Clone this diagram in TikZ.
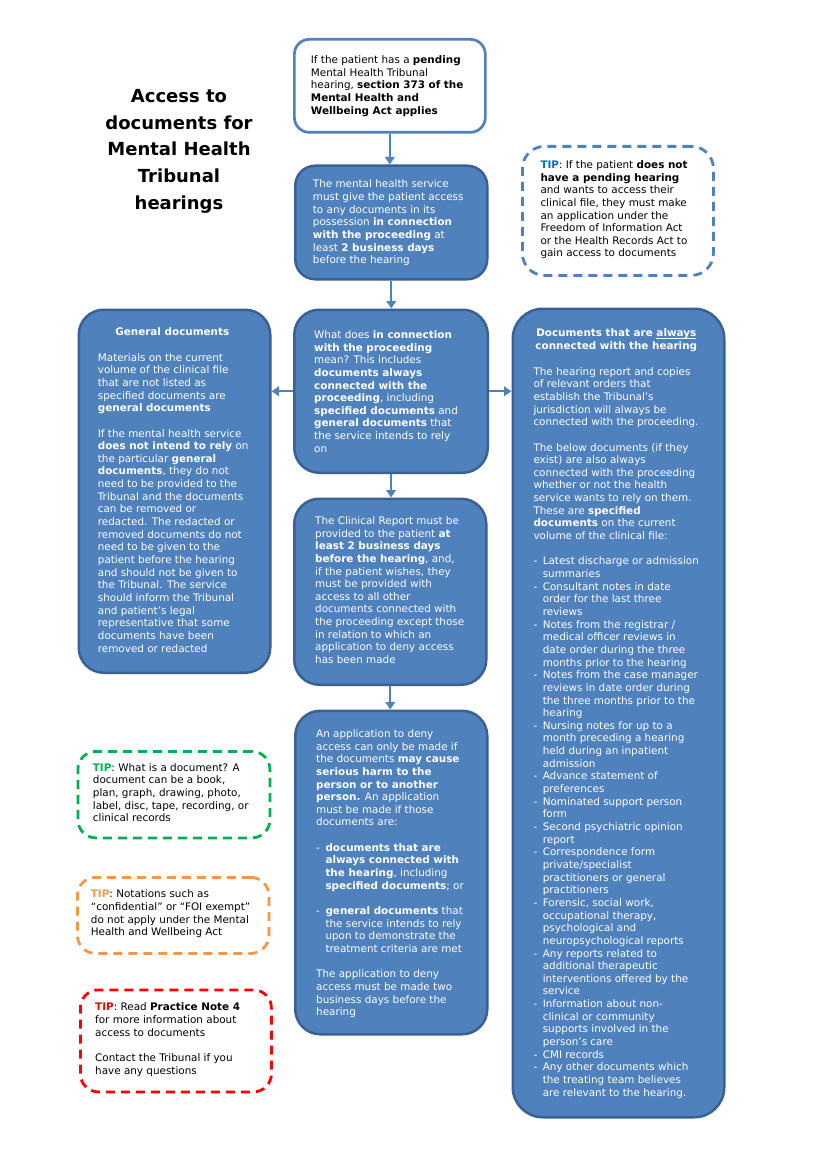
\documentclass[tikz,border=0pt]{standalone}
\usepackage{fontspec}
\setmainfont{DejaVu Sans}
\usetikzlibrary{arrows.meta}
\definecolor{boxblue}{HTML}{4F81BD}
\definecolor{edgeblue}{HTML}{3A6094}
\definecolor{tipblue}{HTML}{0070C0}
\definecolor{tipgreen}{HTML}{00B050}
\definecolor{tiporange}{HTML}{F79646}
\definecolor{tipred}{HTML}{FF0000}
\newcommand{\gap}{\\[12.65pt]}
\newcommand{\li}{\makebox[9.3pt][l]{-}}
\newcommand{\ci}{\hspace*{9.3pt}}
\newcommand{\myul}[1]{\setbox0\hbox{#1}\rlap{\rule[-1.6pt]{\wd0}{0.7pt}}#1}
\begin{document}
\begin{tikzpicture}[x=1pt,y=-1pt,
  flowbox/.style={draw=edgeblue, fill=boxblue, line width=2.5pt, inner sep=0pt, anchor=north west},
  whitebox/.style={draw=boxblue, fill=white, line width=2.7pt, inner sep=0pt, anchor=north west, rounded corners=15pt},
  tipbox/.style={draw=#1, dash pattern=on 9pt off 6pt, line width=2.8pt, inner sep=0pt, anchor=north west, rounded corners=18pt},
  txt/.style={align=left, inner sep=0pt, anchor=north west, font=\fontsize{10.4}{12.65}\selectfont, execute at begin node={\rule{0pt}{8pt}}},
  wtxt/.style={txt, text=white},
  arr/.style={draw=boxblue, line width=2.2pt, -{Triangle[length=7.5pt,width=9.5pt]}}
]
\fill[white] (0,0) rectangle (826,1169);
\useasboundingbox (0,0) rectangle (826,1169);

% title
\node[align=center, inner sep=0pt, anchor=north, font=\fontsize{18}{26.8}\selectfont\bfseries, execute at begin node={\rule{0pt}{14pt}}] (title) at (179,89)
{Access to\\documents for\\Mental Health\\Tribunal\\hearings};

% boxes
\node[whitebox, minimum width=191pt, minimum height=93pt] (b1) at (293,38) {};
\node[flowbox, rounded corners=20pt, minimum width=192pt, minimum height=113.5pt] (b2) at (294,164.5) {};
\node[tipbox=boxblue, rounded corners=22pt, minimum width=191pt, minimum height=129pt] (tipb) at (521,145) {};
\node[flowbox, rounded corners=25pt, minimum width=191.5pt, minimum height=363pt] (gen) at (77.5,308.5) {};
\node[flowbox, rounded corners=25pt, minimum width=193.5pt, minimum height=163pt] (b3) at (293,308.5) {};
\node[flowbox, rounded corners=25pt, minimum width=192pt, minimum height=186pt] (b4) at (293,497.5) {};
\node[flowbox, rounded corners=25pt, minimum width=192pt, minimum height=323.5pt] (b5) at (294,709.5) {};
\node[flowbox, rounded corners=30pt, minimum width=211.5pt, minimum height=808.5pt] (right) at (511.5,307.5) {};
\node[tipbox=tipgreen, minimum width=192pt, minimum height=86.5pt] (tipg) at (76.5,750) {};
\node[tipbox=tiporange, minimum width=191.5pt, minimum height=76pt] (tipo) at (76,876) {};
\node[tipbox=tipred, minimum width=191pt, minimum height=102pt] (tipr) at (79,988.5) {};

% arrows
\draw[arr] (b1.south) -- (b1.south |- b2.north);
\draw[arr] (b2.south) -- (b2.south |- b3.north);
\draw[arr] (b3.south) -- (b3.south |- b4.north);
\draw[arr] (b4.south) -- (b4.south |- b5.north);
\draw[arr] (b3.west) -- (b3.west -| gen.east);
\draw[arr] (b3.east) -- (b3.east -| right.west);

% texts
\node[txt] (t1) at (310.7,55.3) {If the patient has a \textbf{pending}\\
Mental Health Tribunal\\
hearing, \textbf{section 373 of the}\\
\textbf{Mental Health and}\\
\textbf{Wellbeing Act applies}};

\node[wtxt] (t2) at (312.7,179.7) {The mental health service\\
must give the patient access\\
to any documents in its\\
possession \textbf{in connection}\\
\textbf{with the proceeding} at\\
least \textbf{2 business days}\\
before the hearing};

\node[txt] (ttip) at (540.3,160.3) {\textbf{\textcolor{tipblue}{TIP}}: If the patient \textbf{does not}\\
\textbf{have a pending hearing}\\
and wants to access their\\
clinical file, they must make\\
an application under the\\
Freedom of Information Act\\
or the Health Records Act to\\
gain access to documents};

\node[wtxt, anchor=north, align=center] (gentitle) at (172.3,327.7) {\textbf{General documents}};
\node[wtxt] (genbody) at (97.7,353) {Materials on the current\\
volume of the clinical file\\
that are not listed as\\
specified documents are\\
\textbf{general documents}\gap
If the mental health service\\
\textbf{does not intend to rely} on\\
the particular \textbf{general}\\
\textbf{documents}, they do not\\
need to be provided to the\\
Tribunal and the documents\\
can be removed or\\
redacted. The redacted or\\
removed documents do not\\
need to be given to the\\
patient before the hearing\\
and should not be given to\\
the Tribunal. The service\\
should inform the Tribunal\\
and patient’s legal\\
representative that some\\
documents have been\\
removed or redacted};

\node[wtxt] (t3) at (314,330.3) {What does \textbf{in connection}\\
\textbf{with the proceeding}\\
mean? This includes\\
\textbf{documents always}\\
\textbf{connected with the}\\
\textbf{proceeding}, including\\
\textbf{specified documents} and\\
\textbf{general documents} that\\
the service intends to rely\\
on};

\node[wtxt] (t4) at (315,516.3) {The Clinical Report must be\\
provided to the patient \textbf{at}\\
\textbf{least 2 business days}\\
\textbf{before the hearing}, and,\\
if the patient wishes, they\\
must be provided with\\
access to all other\\
documents connected with\\
the proceeding except those\\
in relation to which an\\
application to deny access\\
has been made};

\node[wtxt] (t5) at (316,729.3) {An application to deny\\
access can only be made if\\
the documents \textbf{may cause}\\
\textbf{serious harm to the}\\
\textbf{person or to another}\\
\textbf{person.} An application\\
must be made if those\\
documents are:\gap
\li\textbf{documents that are}\\
\ci\textbf{always connected with}\\
\ci\textbf{the hearing}, including\\
\ci\textbf{specified documents}; or\gap
\li\textbf{general documents} that\\
\ci the service intends to rely\\
\ci upon to demonstrate the\\
\ci treatment criteria are met\gap
The application to deny\\
access must be made two\\
business days before the\\
hearing};

\node[wtxt, anchor=north, align=center] (righttitle) at (616.3,328.7) {\textbf{Documents that are \myul{always}}\\
\textbf{connected with the hearing}};
\node[wtxt] (rightbody) at (533.3,367) {The hearing report and copies\\
of relevant orders that\\
establish the Tribunal’s\\
jurisdiction will always be\\
connected with the proceeding.\gap
The below documents (if they\\
exist) are also always\\
connected with the proceeding\\
whether or not the health\\
service wants to rely on them.\\
These are \textbf{specified}\\
\textbf{documents} on the current\\
volume of the clinical file:\gap
\li Latest discharge or admission\\
\ci summaries\\
\li Consultant notes in date\\
\ci order for the last three\\
\ci reviews\\
\li Notes from the registrar /\\
\ci medical officer reviews in\\
\ci date order during the three\\
\ci months prior to the hearing\\
\li Notes from the case manager\\
\ci reviews in date order during\\
\ci the three months prior to the\\
\ci hearing\\
\li Nursing notes for up to a\\
\ci month preceding a hearing\\
\ci held during an inpatient\\
\ci admission\\
\li Advance statement of\\
\ci preferences\\
\li Nominated support person\\
\ci form\\
\li Second psychiatric opinion\\
\ci report\\
\li Correspondence form\\
\ci private/specialist\\
\ci practitioners or general\\
\ci practitioners\\
\li Forensic, social work,\\
\ci occupational therapy,\\
\ci psychological and\\
\ci neuropsychological reports\\
\li Any reports related to\\
\ci additional therapeutic\\
\ci interventions offered by the\\
\ci service\\
\li Information about non-\\
\ci clinical or community\\
\ci supports involved in the\\
\ci person’s care\\
\li CMI records\\
\li Any other documents which\\
\ci the treating team believes\\
\ci are relevant to the hearing.};

\node[txt] (tgreen) at (92.7,763) {\textbf{\textcolor{tipgreen}{TIP}}: What is a document? A\\
document can be a book,\\
plan, graph, drawing, photo,\\
label, disc, tape, recording, or\\
clinical records};

\node[txt] (torange) at (90.7,889.7) {\textbf{\textcolor{tiporange}{TIP}}: Notations such as\\
“confidential” or “FOI exempt”\\
do not apply under the Mental\\
Health and Wellbeing Act};

\node[txt] (tred) at (95,1002.7) {\textbf{\textcolor{tipred}{TIP}}: Read \textbf{Practice Note 4}\\
for more information about\\
access to documents\gap
Contact the Tribunal if you\\
have any questions};
\end{tikzpicture}
\end{document}
